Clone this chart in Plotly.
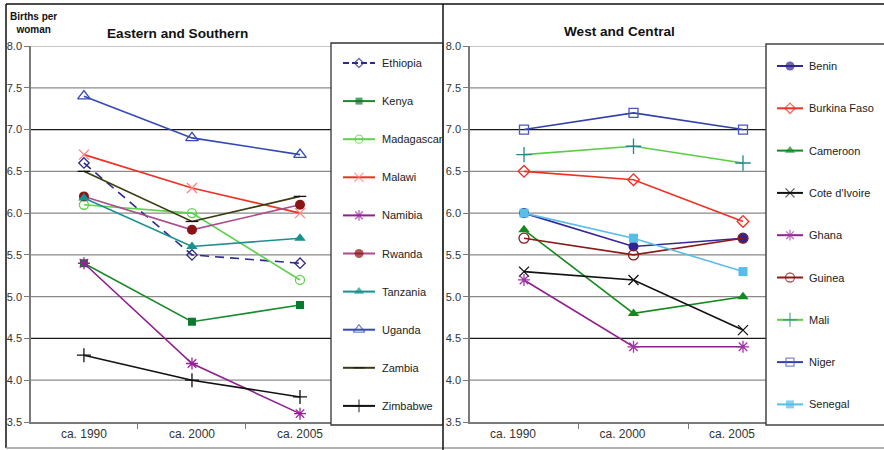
import plotly.graph_objects as go

# ---- data: total fertility rate (births per woman) ----
periods = ["ca. 1990", "ca. 2000", "ca. 2005"]
y_ticks = [3.5, 4.0, 4.5, 5.0, 5.5, 6.0, 6.5, 7.0, 7.5, 8.0]

# Eastern and Southern Africa
ethiopia = [6.6, 5.5, 5.4]
kenya = [5.4, 4.7, 4.9]
madagascar = [6.1, 6.0, 5.2]
malawi = [6.7, 6.3, 6.0]
namibia = [5.4, 4.2, 3.6]
rwanda = [6.2, 5.8, 6.1]
tanzania = [6.18, 5.6, 5.7]
uganda = [7.4, 6.9, 6.7]
zambia = [6.5, 5.9, 6.2]
zimbabwe = [4.3, 4.0, 3.8]

# West and Central Africa
benin = [6.0, 5.6, 5.7]
burkina_faso = [6.5, 6.4, 5.9]
cameroon = [5.8, 4.8, 5.0]
cote_divoire = [5.3, 5.2, 4.6]
ghana = [5.2, 4.4, 4.4]
guinea = [5.7, 5.5, 5.7]
mali = [6.7, 6.8, 6.6]
niger = [7.0, 7.2, 7.0]
senegal = [6.0, 5.7, 5.3]

east_series = [
    ("Ethiopia", ethiopia), ("Kenya", kenya), ("Madagascar", madagascar),
    ("Malawi", malawi), ("Namibia", namibia), ("Rwanda", rwanda),
    ("Tanzania", tanzania), ("Uganda", uganda), ("Zambia", zambia),
    ("Zimbabwe", zimbabwe),
]
west_series = [
    ("Benin", benin), ("Burkina Faso", burkina_faso), ("Cameroon", cameroon),
    ("Cote d'Ivoire", cote_divoire), ("Ghana", ghana), ("Guinea", guinea),
    ("Mali", mali), ("Niger", niger), ("Senegal", senegal),
]

# ---- styles: line colour, dash, marker symbol, marker colour, marker size ----
styles = {
    "Ethiopia": ("#2e2a8c", "9px,6px", "diamond-open", "#2e2a8c", 8),
    "Kenya": ("#1b8a2c", "solid", "square", "#0c7a2c", 8),
    "Madagascar": ("#5ed24a", "solid", "circle-open", "#5ed24a", 9),
    "Malawi": ("#ee3124", "solid", "x-thin-open", "#ff7f7f", 10),
    "Namibia": ("#8f1f8f", "solid", "asterisk-open", "#9b1f9b", 10),
    "Rwanda": ("#a94d8b", "solid", "circle", "#8b1414", 10),
    "Tanzania": ("#17918f", "solid", "triangle-up", "#17918f", 10),
    "Uganda": ("#3548b5", "solid", "triangle-up-open", "#3548b5", 11),
    "Zambia": ("#3b3a12", "solid", "line-ew-open", "#111111", 9),
    "Zimbabwe": ("#111111", "solid", "cross-thin-open", "#111111", 10),
    "Benin": ("#34279a", "solid", "circle", "#2f2590", 10),
    "Burkina Faso": ("#ee3124", "solid", "diamond-open", "#ee3124", 9),
    "Cameroon": ("#138a1d", "solid", "triangle-up", "#138a1d", 10),
    "Cote d'Ivoire": ("#111111", "solid", "x-thin-open", "#111111", 10),
    "Ghana": ("#8f1f8f", "solid", "asterisk-open", "#a035a8", 10),
    "Guinea": ("#8b1a1a", "solid", "circle-open", "#8b1a1a", 10),
    "Mali": ("#5ccc44", "solid", "cross-thin-open", "#1f8a8a", 11),
    "Niger": ("#3342a8", "solid", "square-open", "#4a57bd", 9),
    "Senegal": ("#57bde9", "solid", "square", "#57bde9", 9),
}

W, H = 884, 450
FONT = "Liberation Sans, Arial, sans-serif"


def px_x(p):
    return p / W


def px_y(p):
    return 1 - p / H


def marker_for(name, size=None):
    lc, dash, sym, mc, ms = styles[name]
    return dict(symbol=sym, color=mc, size=ms if size is None else size,
                line=dict(color=mc, width=1.3 if "open" in sym else 0))


fig = go.Figure()

# ---- series lines ----
for series, xa, ya in ((east_series, "x", "y"), (west_series, "x2", "y2")):
    for name, vals in series:
        lc, dash, sym, mc, ms = styles[name]
        fig.add_trace(go.Scatter(
            x=list(range(len(periods))), y=vals, mode="lines+markers",
            name=name, xaxis=xa, yaxis=ya, showlegend=False,
            line=dict(color=lc, width=1.6, dash=dash),
            marker=marker_for(name),
        ))

# ---- hand-built legends inside boxes (pixel-unit axes) ----
legend_specs = [
    (east_series, "x3", "y3", 63.0, 38.1, 343, 375, 380),
    (west_series, "x4", "y4", 66.0, 42.3, 777, 803, 807),
]
annotations = []
for series, xa, ya, y0, dy, lx0, lx1, tx in legend_specs:
    for i, (name, _) in enumerate(series):
        lc, dash, sym, mc, ms = styles[name]
        yy = y0 + dy * i
        ldash = "6px,3px" if dash != "solid" else "solid"
        fig.add_trace(go.Scatter(
            x=[lx0, (lx0 + lx1) / 2, lx1], y=[yy, yy, yy],
            mode="lines+markers", xaxis=xa, yaxis=ya, showlegend=False,
            hoverinfo="skip",
            line=dict(color=lc, width=2.0, dash=ldash),
            marker=dict(symbol=sym, color=mc, size=[0, ms - 1, 0],
                        line=dict(color=mc, width=1.3 if "open" in sym else 0)),
        ))
        annotations.append(dict(
            x=tx, y=yy, xref=xa, yref=ya, text=name, showarrow=False,
            xanchor="left", yanchor="middle",
            font=dict(family=FONT, size=11, color="#222222"),
        ))

# ---- panel titles and unit label ----
annotations += [
    dict(x=px_x(177), y=px_y(33), xref="paper", yref="paper",
         text="<b>Eastern and Southern</b>", showarrow=False,
         xanchor="center", yanchor="middle",
         font=dict(family=FONT, size=13.6, color="#111111")),
    dict(x=px_x(619), y=px_y(31), xref="paper", yref="paper",
         text="<b>West and Central</b>", showarrow=False,
         xanchor="center", yanchor="middle",
         font=dict(family=FONT, size=13.6, color="#111111")),
    dict(x=px_x(33), y=px_y(22.5), xref="paper", yref="paper",
         text="<b>Births per<br>woman</b>", showarrow=False,
         xanchor="center", yanchor="middle", align="center",
         font=dict(family=FONT, size=10, color="#111111")),
]

# ---- horizontal gridlines ----
shapes = []
for xa, ya in (("x", "y"), ("x2", "y2")):
    for v in y_ticks[1:]:
        dark = v in (7.0, 4.5)
        shapes.append(dict(
            type="line", xref=f"{xa} domain", yref=ya, x0=0, x1=1, y0=v, y1=v,
            line=dict(color="#1a1a1a" if dark else "#8a8a8a", width=1.2),
            layer="below",
        ))

# ---- frame, divider and legend boxes ----
frame = dict(type="line", xref="paper", yref="paper")
shapes += [
    dict(frame, x0=px_x(6), x1=1, y0=px_y(4), y1=px_y(4),
         line=dict(color="#111111", width=1.5)),
    dict(frame, x0=px_x(6), x1=px_x(6), y0=px_y(4), y1=px_y(448),
         line=dict(color="#111111", width=1.5)),
    dict(frame, x0=px_x(6), x1=1, y0=px_y(448), y1=px_y(448),
         line=dict(color="#9a9a9a", width=1.5)),
    dict(frame, x0=px_x(443), x1=px_x(443), y0=px_y(4), y1=0,
         line=dict(color="#111111", width=1.5)),
    dict(type="rect", xref="paper", yref="paper",
         x0=px_x(331), x1=px_x(443), y0=px_y(425), y1=px_y(43),
         line=dict(color="#333333", width=1.3), fillcolor="rgba(0,0,0,0)",
         layer="above"),
    dict(type="rect", xref="paper", yref="paper",
         x0=px_x(766), x1=px_x(892), y0=px_y(425), y1=px_y(44),
         line=dict(color="#444444", width=1.5), fillcolor="rgba(0,0,0,0)",
         layer="above"),
]

y_dom = [px_y(422), px_y(46)]
yaxis_common = dict(
    range=[3.5, 8.0], tickvals=y_ticks, tickformat=".1f", automargin=False,
    showgrid=False, zeroline=False, showline=True, linecolor="#7a7a7a",
    linewidth=1.5, ticks="outside", ticklen=5, tickcolor="#7a7a7a",
    tickfont=dict(family=FONT, size=11, color="#333333"), domain=y_dom,
)
xaxis_common = dict(
    tickvals=[0, 1, 2], ticktext=periods, ticks="", automargin=False,
    showgrid=False, zeroline=False, showline=True, linecolor="#7a7a7a",
    linewidth=1.5, tickfont=dict(family=FONT, size=12, color="#333333"),
    minor=dict(tickvals=[0.5, 1.5], ticks="outside", ticklen=5,
               tickcolor="#7a7a7a", showgrid=False),
)
hidden = dict(visible=False, showgrid=False, zeroline=False, fixedrange=True,
              automargin=False)

fig.update_layout(
    width=W, height=H, margin=dict(l=0, r=0, t=0, b=0, pad=0),
    autosize=False,
    paper_bgcolor="white", plot_bgcolor="white",
    showlegend=False,
    xaxis=dict(xaxis_common, domain=[px_x(31), px_x(331)],
               range=[-0.49, 2.287], anchor="y"),
    yaxis=dict(yaxis_common, anchor="x"),
    xaxis2=dict(xaxis_common, domain=[px_x(470), px_x(766)],
                range=[-0.493, 2.21], anchor="y2", ticklabelshift=-11),
    yaxis2=dict(yaxis_common, anchor="x2"),
    xaxis3=dict(hidden, domain=[px_x(332), px_x(442)], range=[332, 442],
                anchor="y3"),
    yaxis3=dict(hidden, domain=[px_y(424), px_y(44)], range=[424, 44],
                anchor="x3"),
    xaxis4=dict(hidden, domain=[px_x(767), 1], range=[767, 884],
                anchor="y4"),
    yaxis4=dict(hidden, domain=[px_y(424), px_y(45)], range=[424, 45],
                anchor="x4"),
    annotations=annotations,
    shapes=shapes,
)

# the page body gets no margin so the figure fills the window exactly
fig.write_html(
    "out.html",
    post_script="document.body.style.margin='0';"
                "document.body.style.padding='0';"
                "document.body.style.overflow='hidden';",
)
